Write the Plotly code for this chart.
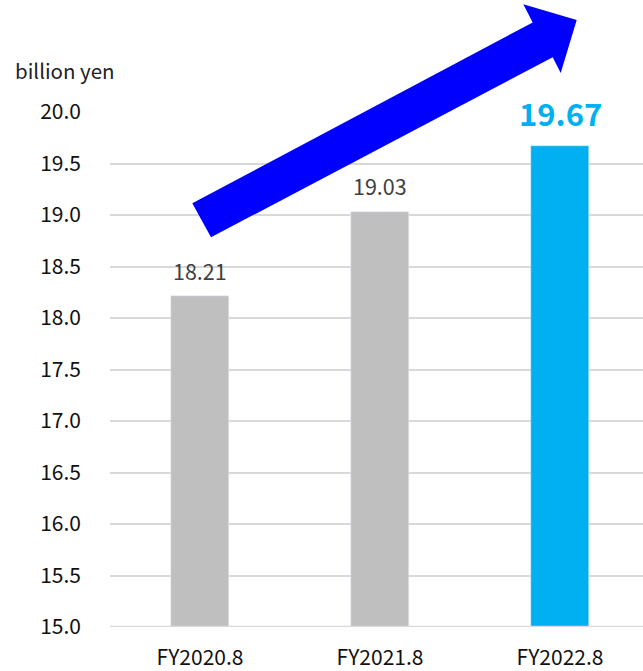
import plotly.graph_objects as go

categories = ["FY2020.8", "FY2021.8", "FY2022.8"]
values = [18.21, 19.03, 19.67]
bar_colors = ["#BFBFBF", "#BFBFBF", "#00B0F0"]
label_colors = ["#404040", "#404040", "#00B0F0"]
label_sizes = [21.5, 21.5, 31]
label_bold = [False, False, True]
tick_vals = [15.0, 15.5, 16.0, 16.5, 17.0, 17.5, 18.0, 18.5, 19.0, 19.5, 20.0]
tick_text = ["%.1f" % v for v in tick_vals]
unit_label = "billion yen"

W, H = 643, 671
L, R, T, B = 110, 0, 112, 40
FONT = "Noto Sans CJK JP"

fig = go.Figure()
fig.add_trace(go.Bar(
    x=list(range(len(categories))), y=values, marker_color=bar_colors,
    width=0.317, base=0, hoverinfo="skip",
))

for i, (v, c, s, b) in enumerate(zip(values, label_colors, label_sizes, label_bold)):
    txt = f"<b>{v:.2f}</b>" if b else f"{v:.2f}"
    fig.add_annotation(x=i, y=v, xref="x", yref="y", text=txt, showarrow=False,
                       yanchor="middle", yshift=33 if b else 26,
                       font=dict(family=FONT, size=s, color=c))

# decorative arrow in pixel-based paper coordinates
pw, ph = W - L - R, H - T - B
pts_px = [(192.3, 204), (211, 238.3), (552.7, 56.7), (560.7, 72.7),
          (576.7, 19.3), (523.3, 3.3), (532.7, 21.7)]
def to_paper(p):
    return ((p[0] - L) / pw, (H - B - p[1]) / ph)
pp = [to_paper(p) for p in pts_px]
path = "M " + " L ".join(f"{x:.5f},{y:.5f}" for x, y in pp) + " Z"
fig.add_shape(type="path", path=path, xref="paper", yref="paper",
              fillcolor="#0000FF", line=dict(width=0), layer="above")

fig.add_annotation(x=(13 - L) / pw, y=(H - B - 70) / ph, xref="paper", yref="paper",
                   text=unit_label, showarrow=False, xanchor="left", yanchor="middle",
                   font=dict(family=FONT, size=20.5, color="#222222"))

fig.update_layout(
    width=W, height=H, margin=dict(l=L, r=R, t=T, b=B),
    plot_bgcolor="white", paper_bgcolor="white", showlegend=False,
    bargap=0,
    xaxis=dict(range=[-0.5, (W - L) / 180 - 0.5], tickvals=list(range(len(categories))),
               ticktext=categories, showgrid=False, zeroline=False,
               showline=False, ticks="", ticklabelstandoff=16,
               tickfont=dict(family=FONT, size=21, color="#111111"), fixedrange=True),
    yaxis=dict(range=[15, 20], tickvals=tick_vals, ticktext=tick_text,
               showgrid=True, gridcolor="#D9D9D9", gridwidth=1.5,
               zeroline=False, showline=False, ticks="", ticklabelstandoff=28,
               tickfont=dict(family=FONT, size=21, color="#111111"), fixedrange=True),
)
fig.add_shape(type="line", xref="paper", yref="y", x0=0, x1=1, y0=15, y1=15,
              line=dict(color="#D9D9D9", width=2.5), layer="above")

fig.write_html("out.html")
